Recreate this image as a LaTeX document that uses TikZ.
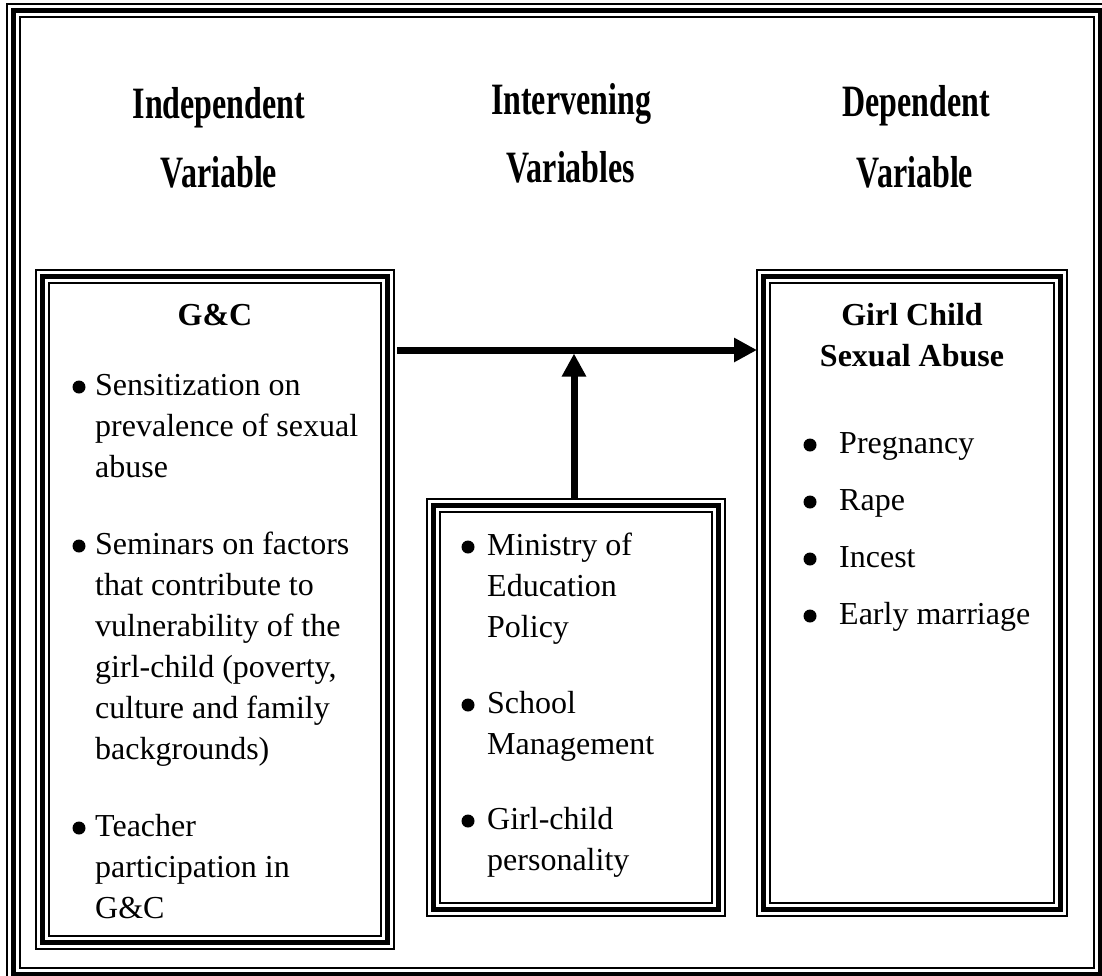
\documentclass[tikz,border=0pt]{standalone}
\usepackage{fontspec}
\setmainfont{Liberation Serif}
\usetikzlibrary{arrows.meta}
\newcommand{\bodysize}{\fontsize{32}{41}\selectfont}
\newcommand{\itemlines}[1]{\begin{tabular}[t]{@{}l@{}}#1\end{tabular}}
\newcommand{\tallbf}[1]{\scalebox{1}[1.4]{#1}}
\tikzset{framebox/.style={inner sep=0pt,outer sep=0pt}}
\tikzset{thinline/.style={line width=1.5pt}}
\tikzset{thickline/.style={line width=4.5pt}}
\tikzset{heading/.style={font=\bodysize\bfseries,inner sep=0pt,anchor=base}}
\tikzset{entry/.style={font=\bodysize,inner sep=0pt,anchor=base west}}
\tikzset{bullet/.style={circle,fill,inner sep=0pt,minimum size=13pt}}
\tikzset{flow/.style={line width=7pt,-{Triangle[length=23pt,width=23pt]}}}
\newcommand{\triframe}[1]{%
	\draw [thinline] (#1.north west) rectangle (#1.south east);
	\draw [thickline] ([shift={(6.5pt,-6.5pt)}]#1.north west) rectangle ([shift={(-6.5pt,6.5pt)}]#1.south east);
	\draw [thinline] ([shift={(13pt,-13pt)}]#1.north west) rectangle ([shift={(-13pt,13pt)}]#1.south east);
}

\begin{document}
\begin{tikzpicture}[x=1pt,y=-1pt]
	\useasboundingbox (0,0) rectangle (1102,975);

	% frames
	\node [framebox,minimum width=1100pt,minimum height=977pt] (outer) at (557,492.5) {};
	\node [framebox,minimum width=358pt,minimum height=679pt] (gcbox) at (215,609.5) {};
	\node [framebox,minimum width=298pt,minimum height=417pt] (policybox) at (576,707.5) {};
	\node [framebox,minimum width=310pt,minimum height=646pt] (abusebox) at (912,593) {};
	\triframe{outer}
	\triframe{gcbox}
	\triframe{policybox}
	\triframe{abusebox}

	% headings
	\node [heading] (indep) at (219,118) {\tallbf{Independent}};
	\node [heading] (indepvar) at (219,187) {\tallbf{Variable}};
	\node [heading] (interv) at (571,114) {\tallbf{Intervening}};
	\node [heading] (intervvar) at (571,182) {\tallbf{Variables}};
	\node [heading] (dep) at (916,116) {\tallbf{Dependent}};
	\node [heading] (depvar) at (915,187) {\tallbf{Variable}};

	% G&C box
	\node [heading] (gctitle) at (215,325) {G\&C};
	\node [entry] (sens) at (95,395) {\itemlines{Sensitization on\\prevalence of sexual\\abuse}};
	\node [entry] (seminar) at (95,554) {\itemlines{Seminars on factors\\that contribute to\\vulnerability of the\\girl-child (poverty,\\culture and family\\backgrounds)}};
	\node [entry] (teacher) at (95,836) {\itemlines{Teacher\\participation in\\G\&C}};
	\foreach \n in {sens,seminar,teacher}
		\node [bullet] at ([shift={(-16pt,8pt)}]\n.base west) {};

	% intervening box
	\node [entry] (ministry) at (487,555) {\itemlines{Ministry of\\Education\\Policy}};
	\node [entry] (school) at (487,713) {\itemlines{School\\Management}};
	\node [entry] (personality) at (487,829) {\itemlines{Girl-child\\personality}};
	\foreach \n in {ministry,school,personality}
		\node [bullet] at ([shift={(-19pt,8pt)}]\n.base west) {};

	% abuse box
	\node [heading] (abusetitle) at (912,325) {\begin{tabular}[t]{@{}c@{}}Girl Child\\Sexual Abuse\end{tabular}};
	\node [entry] (pregnancy) at (839,453) {Pregnancy};
	\node [entry] (rape) at (839,510) {Rape};
	\node [entry] (incest) at (839,567) {Incest};
	\node [entry] (marriage) at (839,624) {Early marriage};
	\foreach \n in {pregnancy,rape,incest,marriage}
		\node [bullet] at ([shift={(-29pt,8pt)}]\n.base west) {};

	% arrows
	\coordinate (junction) at (574,350);
	\draw [flow,shorten <=3pt] (gcbox.east |- junction) -- (abusebox.west |- junction);
	\draw [flow] (policybox.north -| junction) -- ([yshift=-3.5pt]junction);
\end{tikzpicture}
\end{document}
